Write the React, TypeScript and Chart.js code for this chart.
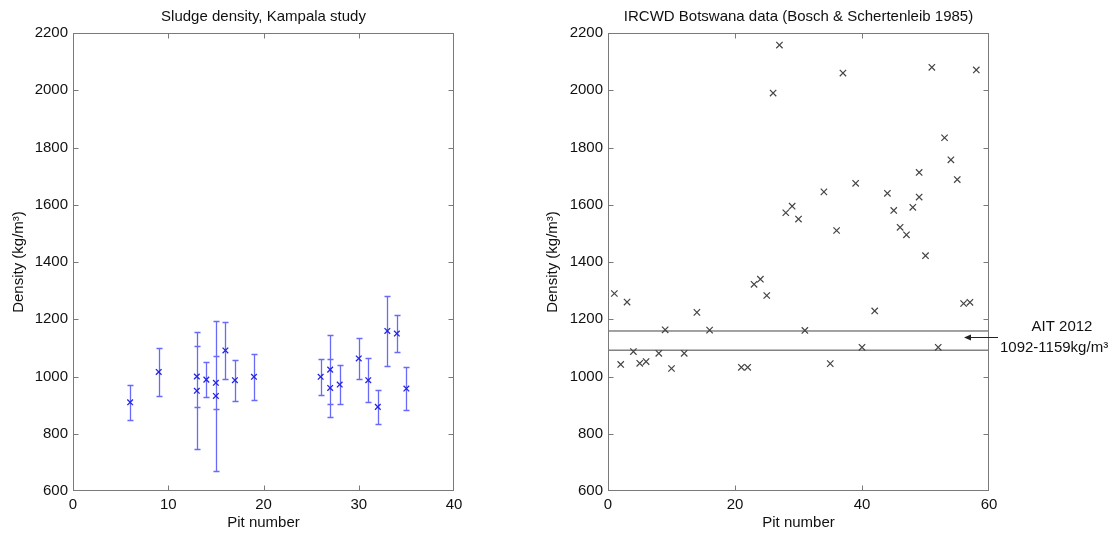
import React, { useEffect, useRef } from "react";
import { Chart, registerables } from "chart.js";
Chart.register(...registerables);

// ---------- data ----------
const kampalaPit = [6, 9, 13, 13, 14, 15, 15, 16, 17, 19, 26, 27, 27, 28, 30, 31, 32, 33, 34, 35];
const kampalaDensity = [910, 1016, 1000, 950, 989, 978, 932, 1091, 987, 999, 999, 1024, 960, 972, 1063, 987, 894, 1159, 1150, 958];
const kampalaError = [62, 84, 107, 205, 60, 93, 261, 98, 72, 80, 62, 120, 100, 67, 72, 76, 60, 121, 64, 75];

const botswanaPit = [1, 2, 3, 4, 5, 6, 8, 9, 10, 12, 14, 16, 21, 22, 23, 24, 25, 26, 27, 28, 29, 30, 31, 34, 35, 36, 37, 39, 40, 42, 44, 45, 46, 47, 48, 49, 49, 50, 51, 52, 53, 54, 55, 56, 57, 58];
const botswanaDensity = [1290, 1042, 1260, 1087, 1046, 1052, 1081, 1163, 1028, 1081, 1224, 1162, 1032, 1032, 1322, 1340, 1283, 1990, 2158, 1572, 1595, 1550, 1161, 1645, 1045, 1510, 2060, 1675, 1102, 1229, 1640, 1580, 1521, 1495, 1591, 1713, 1627, 1422, 2080, 1102, 1834, 1757, 1688, 1255, 1259, 2071];

const aitRange = [1092, 1159];
const aitLabel = ["AIT 2012", "1092-1159kg/m³"];

const titles = ["Sludge density, Kampala study", "IRCWD Botswana data (Bosch & Schertenleib 1985)"];
const xTitle = "Pit number";
const yTitle = "Density (kg/m³)";
const yTicks = { min: 600, max: 2200, step: 200 };
const xTicksLeft = { min: 0, max: 40, step: 10 };
const xTicksRight = { min: 0, max: 60, step: 20 };

// ---------- styles ----------
const FONT = "'Liberation Sans', Arial, Helvetica, sans-serif";
const font = { family: FONT, size: 15, weight: "normal" as const };
const TEXT = "#111";
const FRAME = "#7a7a7a";

const framePlugin = {
  id: "frame",
  afterDraw(chart: any) {
    const { ctx, chartArea: a, scales } = chart;
    ctx.save();
    ctx.strokeStyle = FRAME;
    ctx.lineWidth = 1;
    const L = Math.round(a.left) + 0.5, R = Math.round(a.right) - 0.5;
    const T = Math.round(a.top) + 0.5, B = Math.round(a.bottom) - 0.5;
    ctx.strokeRect(L, T, R - L, B - T);
    const len = 5;
    ctx.beginPath();
    scales.x.ticks.forEach((t: any) => {
      const px = Math.round(scales.x.getPixelForValue(t.value)) + 0.5;
      if (px <= L + 1 || px >= R - 1) return;
      ctx.moveTo(px, B); ctx.lineTo(px, B - len);
      ctx.moveTo(px, T); ctx.lineTo(px, T + len);
    });
    scales.y.ticks.forEach((t: any) => {
      const py = Math.round(scales.y.getPixelForValue(t.value)) + 0.5;
      if (py <= T + 1 || py >= B - 1) return;
      ctx.moveTo(L, py); ctx.lineTo(L + len, py);
      ctx.moveTo(R, py); ctx.lineTo(R - len, py);
    });
    ctx.stroke();
    ctx.restore();
  },
};

const errorBarPlugin = {
  id: "errorBars",
  beforeDatasetsDraw(chart: any) {
    const { ctx, scales } = chart;
    ctx.save();
    ctx.strokeStyle = "rgb(105,105,250)";
    ctx.lineWidth = 1.3;
    ctx.beginPath();
    kampalaPit.forEach((p, i) => {
      const x = Math.round(scales.x.getPixelForValue(p)) + 0.5;
      const yt = Math.round(scales.y.getPixelForValue(kampalaDensity[i] + kampalaError[i])) + 0.5;
      const yb = Math.round(scales.y.getPixelForValue(kampalaDensity[i] - kampalaError[i])) + 0.5;
      ctx.moveTo(x, yt); ctx.lineTo(x, yb);
      ctx.moveTo(x - 3, yt); ctx.lineTo(x + 3, yt);
      ctx.moveTo(x - 3, yb); ctx.lineTo(x + 3, yb);
    });
    ctx.stroke();
    ctx.restore();
  },
};

const annotationPlugin = {
  id: "aitNote",
  afterDraw(chart: any) {
    const { ctx, chartArea: a, scales } = chart;
    const yMid = (scales.y.getPixelForValue(aitRange[0]) + scales.y.getPixelForValue(aitRange[1])) / 2;
    ctx.save();
    ctx.strokeStyle = "#222";
    ctx.fillStyle = "#222";
    ctx.lineWidth = 1;
    const tipX = a.right - 25;
    const tailX = a.right + 9;
    const y = Math.round(yMid - 4) + 0.5;
    ctx.beginPath();
    ctx.moveTo(tailX, y); ctx.lineTo(tipX + 5, y);
    ctx.stroke();
    ctx.beginPath();
    ctx.moveTo(tipX, y); ctx.lineTo(tipX + 7, y - 3); ctx.lineTo(tipX + 7, y + 3); ctx.closePath();
    ctx.fill();
    ctx.fillStyle = TEXT;
    ctx.font = `15px ${FONT}`;
    ctx.textBaseline = "middle";
    ctx.textAlign = "center";
    ctx.fillText(aitLabel[0], a.right + 73, yMid - 14);
    ctx.textAlign = "left";
    ctx.fillText(aitLabel[1], a.right + 11, yMid + 7);
    ctx.restore();
  },
};

function makeConfig(opts: {
  title: string; xr: { min: number; max: number; step: number };
  datasets: any[]; yWidth: number; yTitlePad: number; padRight: number; plugins: any[];
}) {
  return {
    type: "scatter" as const,
    data: { datasets: opts.datasets },
    plugins: [framePlugin, ...opts.plugins],
    options: {
      animation: false as const,
      responsive: false,
      layout: { padding: { left: 0, right: opts.padRight, top: 0, bottom: 0 } },
      plugins: {
        legend: { display: false },
        tooltip: { enabled: false },
        title: {
          display: true, text: opts.title, font, color: TEXT, fullSize: false,
          padding: { top: 8, bottom: 7 },
        },
      },
      scales: {
        x: {
          type: "linear" as const, min: opts.xr.min, max: opts.xr.max,
          ticks: { stepSize: opts.xr.step, font, color: TEXT, padding: 5, maxRotation: 0, callback: (v: any) => String(v) },
          grid: { display: false, drawTicks: false },
          border: { display: false },
          title: { display: true, text: xTitle, font, color: TEXT, padding: { top: 0, bottom: 1 } },
          afterFit: (s: any) => { s.height = 42; },
        },
        y: {
          type: "linear" as const, min: yTicks.min, max: yTicks.max,
          ticks: { stepSize: yTicks.step, font, color: TEXT, padding: 5, callback: (v: any) => String(v) },
          grid: { display: false, drawTicks: false },
          border: { display: false },
          title: { display: true, text: yTitle, font, color: TEXT, padding: { top: opts.yTitlePad, bottom: 0 } },
          afterFit: (s: any) => { s.width = opts.yWidth; },
        },
      },
    },
  };
}

function ChartCanvas({ config, width, height, left }: any) {
  const ref = useRef<HTMLCanvasElement>(null);
  useEffect(() => {
    const chart = new Chart(ref.current as HTMLCanvasElement, config);
    return () => chart.destroy();
  }, []);
  return (
    <canvas
      ref={ref}
      width={width}
      height={height}
      style={{ position: "absolute", left, top: 0, width, height }}
    />
  );
}

export default function App() {
  const leftConfig = makeConfig({
    title: titles[0], xr: xTicksLeft, yWidth: 73, yTitlePad: 10, padRight: 86,
    plugins: [errorBarPlugin],
    datasets: [{
      data: kampalaPit.map((p, i) => ({ x: p, y: kampalaDensity[i] })),
      pointStyle: "crossRot", pointRadius: 4, pointBorderWidth: 1.3,
      borderColor: "#2525e5", backgroundColor: "#2525e5",
    }],
  });
  const rightConfig = makeConfig({
    title: titles[1], xr: xTicksRight, yWidth: 68, yTitlePad: 4, padRight: 125,
    plugins: [annotationPlugin],
    datasets: [
      {
        data: botswanaPit.map((p, i) => ({ x: p, y: botswanaDensity[i] })),
        pointStyle: "crossRot", pointRadius: 4.5, pointBorderWidth: 1.2,
        borderColor: "#444", backgroundColor: "#444",
      },
      ...aitRange.map((v) => ({
        type: "line" as const,
        data: [{ x: xTicksRight.min, y: v }, { x: xTicksRight.max, y: v }],
        borderColor: "#444", borderWidth: 1, pointRadius: 0, showLine: true,
      })),
    ],
  });
  return (
    <div style={{ position: "absolute", left: 0, top: 0, width: 1114, height: 533, background: "#fff", overflow: "hidden" }}>
      <ChartCanvas config={leftConfig} width={540} height={533} left={0} />
      <ChartCanvas config={rightConfig} width={574} height={533} left={540} />
    </div>
  );
}
